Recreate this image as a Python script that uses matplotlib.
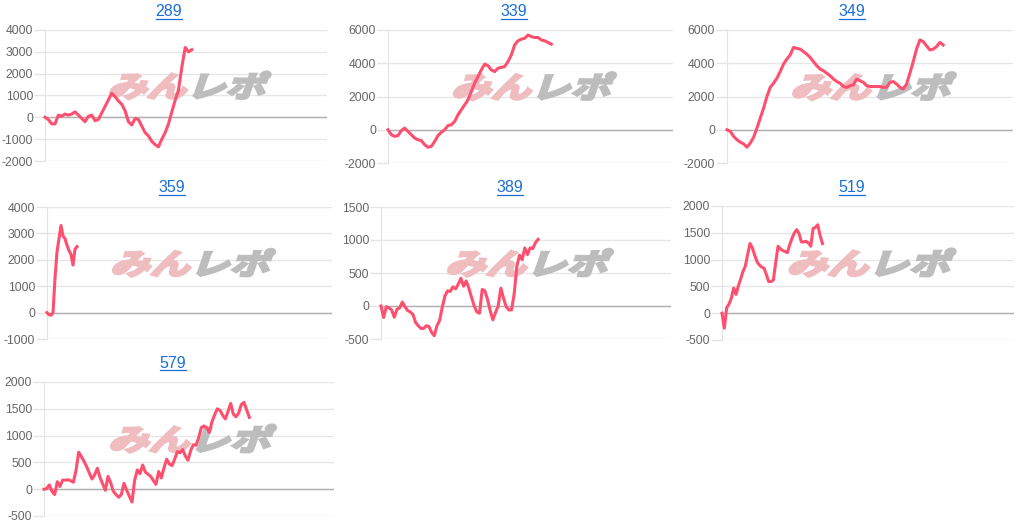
import matplotlib
matplotlib.use("Agg")
import matplotlib.pyplot as plt
import numpy as np
from matplotlib.textpath import TextPath
from matplotlib.patches import PathPatch
from matplotlib.font_manager import FontProperties
from matplotlib.transforms import Affine2D
from matplotlib.lines import Line2D

plt.rcParams['font.family'] = ['Liberation Sans', 'DejaVu Sans']
plt.rcParams['axes.unicode_minus'] = False

titles = ["289", "339", "349", "359", "389", "519", "579"]

v289 = [0, -100, -300, -300, 100, 50, 150, 100, 150, 250, 100, -50, -200, 50, 100,
        -150, -100, 200, 500, 800, 1100, 950, 750, 600, 300, -200, -350, -50, -100,
        -400, -700, -850, -1100, -1250, -1350, -1000, -700, -300, 250, 780, 1250,
        2300, 3200, 3000, 3100]
v339 = [0, -300, -400, -350, -50, 100, -100, -300, -500, -600, -650, -900, -1050,
        -1000, -700, -350, -150, 0, 250, 300, 500, 900, 1200, 1500, 1800, 2300, 2800,
        3200, 3600, 3950, 3850, 3600, 3500, 3700, 3750, 3800, 4100, 4500, 5100, 5350,
        5450, 5500, 5700, 5600, 5550, 5550, 5400, 5350, 5250, 5150]
v349 = [0, -100, -400, -600, -750, -850, -1050, -800, -450, 100, 700, 1300, 2000,
        2550, 2800, 3100, 3500, 3950, 4250, 4500, 4950, 4900, 4850, 4700, 4550, 4350,
        4100, 3850, 3650, 3550, 3400, 3250, 3050, 2900, 2800, 2600, 2550, 2650, 2700,
        3050, 2950, 2850, 2650, 2600, 2600, 2600, 2600, 2550, 2550, 2850, 2900, 2750,
        2550, 2450, 2750, 3400, 4100, 4850, 5400, 5300, 5050, 4800, 4850, 5000, 5250,
        5100]
v359 = [0, -80, -100, 0, 1300, 2300, 2800, 3300, 2900, 2800, 2550, 2350, 2200, 1800,
        2400, 2500]
v389 = [0, -175, -10, -30, -60, -170, -50, -30, 60, -10, -70, -90, -130, -250, -300,
        -340, -340, -300, -310, -400, -450, -300, -220, -20, 150, 230, 220, 290, 260,
        330, 420, 300, 380, 270, 130, 0, -90, -110, 250, 230, 100, -70, -210, -100, 0,
        270, 120, -10, -60, -60, 180, 600, 770, 700, 880, 780, 880, 870, 960, 1010]
v519 = [0, -280, 100, 170, 280, 470, 350, 510, 640, 780, 880, 1100, 1300, 1220, 1080,
        960, 900, 860, 840, 720, 590, 590, 620, 950, 1250, 1200, 1170, 1150, 1130, 1280,
        1400, 1500, 1560, 1480, 1330, 1330, 1340, 1310, 1250, 1580, 1600, 1650, 1450,
        1300]
v579 = [0, 10, 80, -40, -100, 140, 50, 170, 170, 175, 160, 130, 350, 690, 610, 520,
        420, 300, 190, 270, 390, 220, 100, -20, 240, 120, -40, -100, -150, -100, 110,
        -20, -130, -240, 170, 360, 290, 450, 320, 280, 240, 160, 90, 330, 210, 400, 560,
        470, 440, 560, 700, 680, 740, 620, 540, 720, 830, 820, 960, 1150, 1180, 1150,
        1060, 1260, 1390, 1500, 1470, 1380, 1310, 1450, 1600, 1400, 1350, 1420, 1580,
        1620, 1480, 1340]

series = [v289, v339, v349, v359, v389, v519, v579]
slots = [84.5, 85.5, 86, 142.5, 108.9, 125, 108.75]
yranges = [(-2000, 4000, 1000), (-2000, 6000, 2000), (-2000, 6000, 2000),
           (-1000, 4000, 1000), (-500, 1500, 500), (-500, 2000, 500), (-500, 2000, 500)]

W, H = 1024, 526
# panel boxes in pixels: left, top, right, bottom
boxes = [(45, 30, 327, 161), (388, 30, 673, 163), (727, 30, 1013, 163),
         (47, 207, 332, 339), (381, 207, 671, 339), (722, 206, 1014, 340),
         (44, 382, 334, 516)]
title_pos = [(169, 12), (514, 12), (852, 12), (172, 188), (510, 188), (852, 188), (173, 363)]

fig = plt.figure(figsize=(W / 100, H / 100), dpi=100)
fig.patch.set_facecolor('white')

wm_font = FontProperties(family=['Noto Sans CJK JP'], weight='bold')


def watermark(ax):
    # logo-ish watermark: pink "みん" + grey "レポ", slanted and heavy
    for txt, col, x0 in [("みん", "#efbcbf", 0.22), ("レポ", "#bdbdbd", 0.50)]:
        tp = TextPath((0, 0), txt, size=1, prop=wm_font)
        tr = Affine2D().skew_deg(14, 0).scale(0.14, 0.22).translate(x0, 0.49) + ax.transAxes
        ax.add_patch(PathPatch(tp, transform=tr, fc=col, ec=col, lw=2.0,
                               joinstyle='miter', zorder=1.5))


title_texts = []
for i, vals in enumerate(series):
    l, t, r, b = boxes[i]
    ax = fig.add_axes([l / W, (H - b) / H, (r - l) / W, (b - t) / H])
    lo, hi, step = yranges[i]
    ax.set_ylim(lo, hi)
    ax.set_xlim(0, slots[i])
    ax.set_yticks(np.arange(lo, hi + 1, step))
    ax.set_xticks([])
    for s in ['top', 'right', 'bottom']:
        ax.spines[s].set_visible(False)
    ax.spines['left'].set_color('#e4e4e4')
    ax.tick_params(axis='y', length=8, width=1, color='#e4e4e4', pad=0.5,
                   labelsize=8.8, labelcolor='#666666')
    ax.grid(axis='y', color='#e6e6e6', linewidth=1, zorder=0)
    ax.axhline(0, color='#b0b0b0', linewidth=1, zorder=1)
    ax.set_axisbelow(True)
    watermark(ax)
    ax.plot(np.arange(len(vals)), vals, color='#ff4f6e', linewidth=2.2,
            solid_joinstyle='round', zorder=3, clip_on=False)

    tx, ty = title_pos[i]
    tt = fig.text(tx / W, (H - ty) / H, titles[i], ha='center', va='center',
                  fontsize=11.5, color='#1a6ed8')
    title_texts.append(tt)

# underline the titles like links
fig.canvas.draw()
for tt in title_texts:
    bb = tt.get_window_extent()
    y = bb.y0 + 1
    fig.add_artist(Line2D([bb.x0, bb.x1], [y, y], transform=None,
                          color='#1a6ed8', linewidth=0.9))

fig.savefig('out.png', dpi=100)
